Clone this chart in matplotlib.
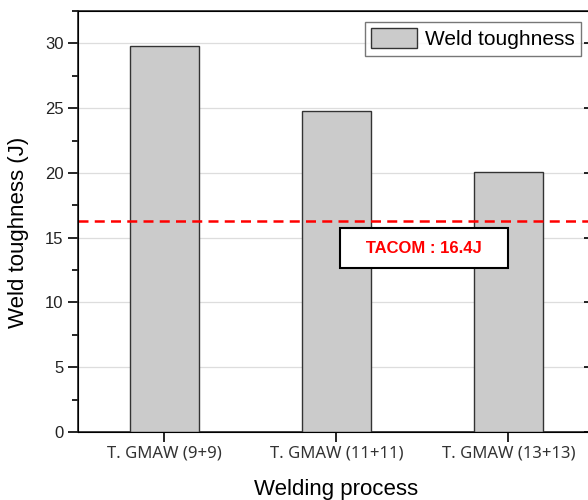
import matplotlib
matplotlib.use("Agg")
import matplotlib.pyplot as plt
from matplotlib.ticker import MultipleLocator

# data
processes = ["T. GMAW (9+9)", "T. GMAW (11+11)", "T. GMAW (13+13)"]
toughness = [29.8, 24.8, 20.1]
tacom_level = 16.3
tacom_text = "TACOM : 16.4J"

plt.rcParams["font.family"] = ["Liberation Sans", "DejaVu Sans"]

fig = plt.figure(figsize=(5.88, 5.0), dpi=100)
ax = fig.add_axes([0.1327, 0.136, 0.8784, 0.842])

x = range(len(processes))
ax.bar(x, toughness, width=0.4, color="#cbcbcb", edgecolor="#333333",
       linewidth=1.0, label="Weld toughness", zorder=3)
ax.axhline(tacom_level, color="#ff0000", linestyle=(0, (4, 2.5)),
           linewidth=1.8, zorder=4)

ax.text(1.51, 14.2, "   " + tacom_text + "   ", color="#ff0000", fontsize=12,
        fontweight="bold", ha="center", va="center", zorder=5,
        bbox=dict(boxstyle="square,pad=0.75", facecolor="white",
                  edgecolor="black", linewidth=1.5))

ax.set_xlim(-0.5, 2.5)
ax.set_ylim(0, 32.5)
ax.set_xticks(list(x))
ax.set_xticklabels(processes, fontsize=12, color="#333333",
                   family=["Noto Sans", "DejaVu Sans"])
ax.yaxis.set_major_locator(MultipleLocator(5))
ax.yaxis.set_minor_locator(MultipleLocator(2.5))
ax.tick_params(axis="y", which="major", labelsize=12, length=7, width=1.2,
               direction="out", labelcolor="#222222")
ax.tick_params(axis="y", which="minor", length=4, width=1.2, direction="out")
ax.tick_params(axis="x", length=7, width=1.2, direction="out", pad=3)
ax.yaxis.grid(True, color="#dddddd", linewidth=0.9, zorder=0)

for side in ["left", "bottom", "top", "right"]:
    ax.spines[side].set_linewidth(1.2)
    ax.spines[side].set_color("#222222")

# right axis ticks (spine is just past the crop)
ax2 = ax.twinx()
ax2.set_ylim(ax.get_ylim())
ax2.yaxis.set_major_locator(MultipleLocator(5))
ax2.tick_params(axis="y", direction="in", length=8, width=1.2, labelright=False)

ax.set_xlabel("Welding process", fontsize=16, labelpad=12)
ax.set_ylabel("Weld toughness (J)", fontsize=16)
ax.yaxis.set_label_coords(-0.095, 0.473)

leg = ax.legend(loc="upper right", bbox_to_anchor=(0.974, 0.974), borderaxespad=0,
                fontsize=15, frameon=True, fancybox=False, handlelength=2.2,
                handleheight=1.1, borderpad=0.3, handletextpad=0.4)
leg.get_frame().set_edgecolor("#555555")
leg.get_frame().set_linewidth(1.0)

fig.savefig("out.png", dpi=100)
